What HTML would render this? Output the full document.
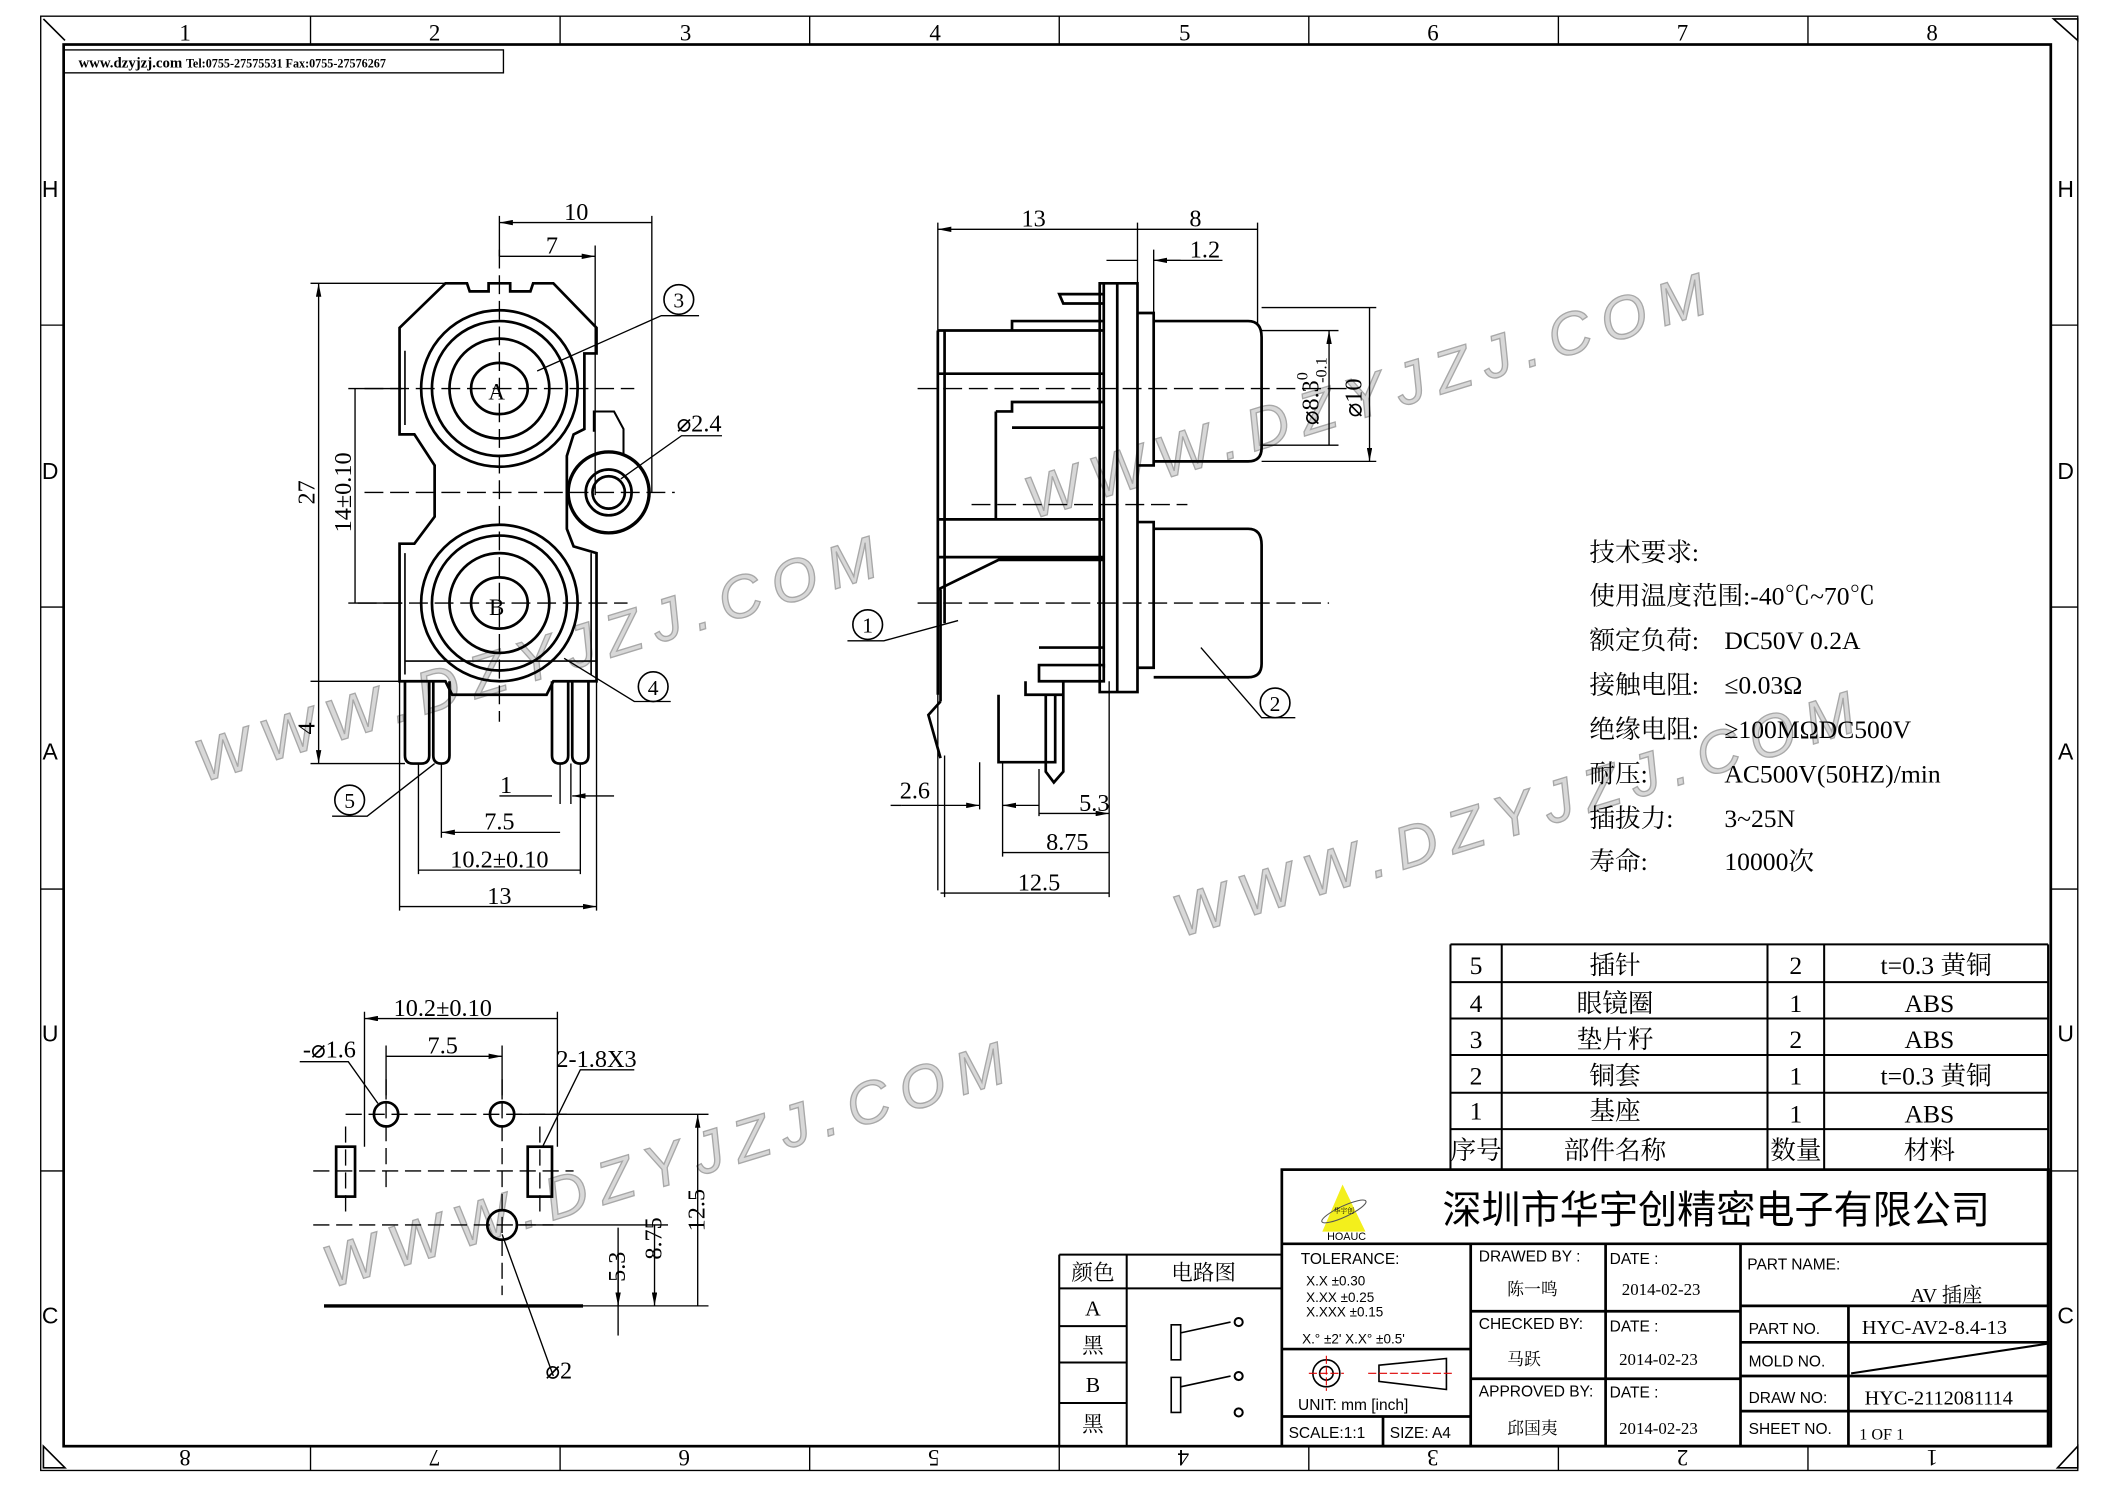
<!DOCTYPE html>
<html><head><meta charset="utf-8"><style>
html,body{margin:0;padding:0;background:#fff}
svg{display:block}
text{font-family:"Liberation Serif","Noto Serif CJK SC","Noto Sans CJK SC",serif;fill:#000}
text.s,.s text{font-family:"Liberation Sans","Noto Sans CJK SC",sans-serif}
.wm text{font-family:"Liberation Sans",sans-serif;fill:#d8d8d8;stroke:#a8a8a8;stroke-width:1}
</style></head><body>
<svg width="2105" height="1488" viewBox="0 0 1560 1103" xmlns="http://www.w3.org/2000/svg">
<defs>
<marker id="a" viewBox="0 0 10 4" refX="10" refY="2" markerWidth="10" markerHeight="4" orient="auto-start-reverse" markerUnits="userSpaceOnUse"><path d="M0,0 L10,2 L0,4z" fill="#000"/></marker>
</defs>
<rect width="1560" height="1103" fill="#fff"/>
<!-- watermarks -->
<g class="wm" font-size="44" font-style="italic" letter-spacing="9">
<text transform="translate(150,580) rotate(-17)">WWW.DZYJZJ.COM</text>
<text transform="translate(765,385) rotate(-17)">WWW.DZYJZJ.COM</text>
<text transform="translate(875,695) rotate(-17)">WWW.DZYJZJ.COM</text>
<text transform="translate(245,955) rotate(-17)">WWW.DZYJZJ.COM</text>
</g>
<!-- frames -->
<g fill="none" stroke="#000">
<rect x="30" y="12" width="1510" height="1078" stroke-width="1"/>
<rect x="47" y="33" width="1473" height="1039" stroke-width="2"/>
<path d="M230,12v21M415,12v21M600,12v21M785,12v21M970,12v21M1155,12v21M1340,12v21 M230,1072v18M415,1072v18M600,1072v18M785,1072v18M970,1072v18M1155,1072v18M1340,1072v18 M30,241h17M30,450h17M30,659h17M30,868h17 M1520,241h20M1520,450h20M1520,659h20M1520,868h20"/>
<path d="M1522,14 L1540,30 L1540,14z M32,1072 L48,1088 L32,1088z M1525,1088 L1540,1072 L1540,1088z M32,14 L48,30" stroke-width="1.2"/>
</g>
<g font-size="17" text-anchor="middle">
<text x="137" y="30">1</text><text x="322" y="30">2</text><text x="508" y="30">3</text><text x="693" y="30">4</text><text x="878" y="30">5</text><text x="1062" y="30">6</text><text x="1247" y="30">7</text><text x="1432" y="30">8</text>
<g transform="rotate(180 780 1081)"><text x="128" y="1087">1</text><text x="313" y="1087">2</text><text x="498" y="1087">3</text><text x="683" y="1087">4</text><text x="868" y="1087">5</text><text x="1053" y="1087">6</text><text x="1238" y="1087">7</text><text x="1423" y="1087">8</text></g>
<text class="s" x="37" y="146">H</text><text class="s" x="37" y="355">D</text><text class="s" x="37" y="563">A</text><text class="s" x="37" y="772">U</text><text class="s" x="37" y="981">C</text>
<text class="s" x="1531" y="146">H</text><text class="s" x="1531" y="355">D</text><text class="s" x="1531" y="563">A</text><text class="s" x="1531" y="772">U</text><text class="s" x="1531" y="981">C</text>
</g>
<rect x="47" y="37" width="326" height="17" fill="none" stroke="#000"/>
<text x="58" y="50" font-size="11" font-weight="bold">www.dzyjzj.com <tspan font-size="9">Tel:0755-27575531  Fax:0755-27576267</tspan></text>

<!-- FRONT VIEW -->
<g fill="none" stroke="#000" stroke-width="2">
<path d="M330,210 L346,210 L348,216 L362,216 L362,210 L378,210 L378,216 L393,216 L395,210 L410,210 L442,243 L442,262 L433,262 L433,318 L425,322 L420,338 L420,392 L425,405 L442,410 L442,505 L410,505 L405,515 L335,515 L330,505 L296,505 L296,403 L307,403 L322,383 L322,345 L307,322 L296,322 L296,243 Z"/>
<path d="M300,260v55M300,410v90M438,410v90M300,490h142" stroke-width="1.2"/>
<circle cx="370" cy="288" r="58"/><circle cx="370" cy="288" r="50"/><circle cx="370" cy="288" r="37"/><ellipse cx="370" cy="288" rx="21" ry="19"/>
<circle cx="370" cy="447" r="58"/><circle cx="370" cy="447" r="50"/><circle cx="370" cy="447" r="37"/><ellipse cx="370" cy="447" rx="21" ry="19"/>
<path d="M440,320 L440,305 L455,305 L462,318 L462,337" stroke-width="1.5"/>
<circle cx="451" cy="365" r="30" stroke-width="2.5"/><circle cx="451" cy="365" r="17"/><circle cx="451" cy="365" r="12"/>
<path d="M300,505v55q0,6 6,6h6q6,0 6,-6v-55 M321,505v55q0,6 6,6q6,0 6,-6v-55 M409,505v55q0,6 6,6q6,0 6,-6v-55 M424,505v55q0,6 6,6q6,0 6,-6v-55"/>
</g>
<g stroke="#000" stroke-width="1" fill="none">
<path d="M370,185v350M270,288h200M270,365h230M265,447h200" stroke-dasharray="14,5"/>
<path d="M370,160v30M483,160v205M441,182v185"/>
<path d="M370,165H483M370,190H441" marker-start="url(#a)" marker-end="url(#a)"/>
<path d="M230,210h100M230,505h66M230,566h70M258,288h40M258,447h40"/>
<path d="M236,210V505M263,288V447M236,505V566" marker-start="url(#a)" marker-end="url(#a)"/>
<path d="M296,505v170M442,505v170M310,566v82M430,566v82M327,566v55M415,566v30M423,566v30"/>
<path d="M370,590H409M455,590H424" marker-end="url(#a)"/>
<path d="M327,617H415M310,645H430M296,672H442" marker-start="url(#a)" marker-end="url(#a)"/>
<path d="M398,275L490,234H518M460,355L505,323H535M418,488L470,520H497M322,566L272,605H246"/>
</g>
<g font-size="18" text-anchor="middle">
<text x="427" y="163">10</text><text x="409" y="188">7</text>
<text transform="translate(233,365) rotate(-90)">27</text>
<text transform="translate(260,365) rotate(-90)">14±0.10</text>
<text transform="translate(233,540) rotate(-90)">4</text>
<text x="375" y="588">1</text><text x="370" y="615">7.5</text><text x="370" y="643">10.2±0.10</text><text x="370" y="670">13</text>
<text x="518" y="320">⌀2.4</text>
<text x="368" y="296" font-size="17">A</text><text x="368" y="456" font-size="17">B</text>
</g>
<g fill="none" stroke="#000" stroke-width="1.2"><circle cx="503" cy="222" r="11"/><circle cx="484" cy="509" r="11"/><circle cx="259" cy="593" r="11"/><circle cx="643" cy="463" r="11"/><circle cx="945" cy="521" r="11"/></g>
<g font-size="16" text-anchor="middle"><text x="503" y="228">3</text><text x="484" y="515">4</text><text x="259" y="599">5</text><text x="643" y="469">1</text><text x="945" y="527">2</text></g>

<!-- SIDE VIEW -->
<g fill="none" stroke="#000" stroke-width="2">
<path d="M695,245V515 M695,245H818 M695,277H818 M695,385H818 M695,413H818 M700,462V245 M750,245V238H818 M738,305H750V298H818 M738,305V385 M750,317H818"/>
<path d="M695,437L740,415H818"/>
<path d="M697,437V520 M697,520L688,530L697,562 M740,515V565H782V515 M815,210V513H843V210Z M828,210V513 M818,210V495 M785,218L788,225H818V218Z"/>
<path d="M843,232H855V345H843 M855,238H925Q935,238 935,250V332Q935,342 925,342H855 M843,387H855V495H843 M855,392H925Q935,392 935,404V492Q935,502 925,502H855"/>
<path d="M770,480H818M770,493H818V505H770Z M760,505V515H788V505 M775,515V572L781,580L788,572V515"/>
</g>
<g stroke="#000" stroke-width="1" fill="none">
<path d="M680,288H1000M680,447H985M720,374H880" stroke-dasharray="14,5"/>
<path d="M695,165V660M843,165V512M932,165V240M855,185V232M743,565V635M822,505V665M726,565V600M770,570V605M700,560V665"/>
<path d="M695,170H843M843,170H932M697,662H822M743,632H822M770,603H822" marker-start="url(#a)" marker-end="url(#a)"/>
<path d="M820,193H843M875,193H855" marker-end="url(#a)"/>
<path d="M906,193H855"/>
<path d="M668,597H726" marker-end="url(#a)"/><path d="M668,597H660"/>
<path d="M748,597H770"/><path d="M752,597H743" marker-end="url(#a)"/>
<path d="M935,228H1020M935,342H1020M935,245H992M935,330H992"/>
<path d="M985,245V330M1015,228V342" marker-start="url(#a)" marker-end="url(#a)"/>
<path d="M710,460L655,475H628M890,480L935,532H960"/>
</g>
<g font-size="18" text-anchor="middle">
<text x="766" y="168">13</text><text x="886" y="168">8</text><text x="893" y="191">1.2</text>
<text transform="translate(977,290) rotate(-90)">⌀8.3<tspan font-size="12" dy="-8">0</tspan><tspan font-size="12" dx="-8" dy="14">-0.1</tspan></text>
<text transform="translate(1009,295) rotate(-90)">⌀10</text>
<text x="678" y="592">2.6</text><text x="811" y="601">5.3</text><text x="791" y="630">8.75</text><text x="770" y="660">12.5</text>
</g>

<!-- tech requirements -->
<g font-size="19">
<text x="1178" y="416">技术要求:</text>
<text x="1178" y="448">使用温度范围:-40℃~70℃</text>
<text x="1178" y="481">额定负荷:</text><text x="1278" y="481">DC50V 0.2A</text>
<text x="1178" y="514">接触电阻:</text><text x="1278" y="514">≤0.03Ω</text>
<text x="1178" y="547">绝缘电阻:</text><text x="1278" y="547">≥100MΩDC500V</text>
<text x="1178" y="580">耐压:</text><text x="1278" y="580">AC500V(50HZ)/min</text>
<text x="1178" y="613">插拔力:</text><text x="1278" y="613">3~25N</text>
<text x="1178" y="645">寿命:</text><text x="1278" y="645">10000次</text>
</g>

<!-- parts table -->
<g fill="none" stroke="#000" stroke-width="1.5">
<path d="M1075,700H1518M1075,728H1518M1075,755H1518M1075,782H1518M1075,810H1518M1075,837H1518M1075,700V867M1113,700V867M1310,700V867M1352,700V867M1518,700V867"/>
</g>
<g font-size="19" text-anchor="middle">
<text x="1094" y="722">5</text><text x="1197" y="722">插针</text><text x="1331" y="722">2</text><text x="1435" y="722">t=0.3 黄铜</text>
<text x="1094" y="750">4</text><text x="1197" y="750">眼镜圈</text><text x="1331" y="750">1</text><text x="1430" y="750">ABS</text>
<text x="1094" y="777">3</text><text x="1197" y="777">垫片籽</text><text x="1331" y="777">2</text><text x="1430" y="777">ABS</text>
<text x="1094" y="804">2</text><text x="1197" y="804">铜套</text><text x="1331" y="804">1</text><text x="1435" y="804">t=0.3 黄铜</text>
<text x="1094" y="830">1</text><text x="1197" y="830">基座</text><text x="1331" y="832">1</text><text x="1430" y="832">ABS</text>
<text x="1094" y="859">序号</text><text x="1197" y="859">部件名称</text><text x="1331" y="859">数量</text><text x="1430" y="859">材料</text>
</g>

<!-- title block -->
<g fill="none" stroke="#000" stroke-width="2">
<rect x="950" y="867" width="568" height="205"/>
<path d="M950,922H1518M1090,922V1072M1190,922V1072M1290,922V1072M1090,972H1290M1090,1022H1290M1290,968H1518M1290,995H1518M1290,1020H1518M1290,1046H1518M1370,968V1072M950,1000H1090M950,1050H1090M1025,1050V1072"/>
<path d="M1372,1018L1518,996" stroke-width="1.5"/>
</g>
<path d="M995,878L980,913H1012Z" fill="#f3ef1c"/>
<ellipse cx="996" cy="898" rx="18" ry="4" transform="rotate(-25 996 898)" fill="none" stroke="#555" stroke-width="0.8"/>
<text x="996" y="899" font-size="5" text-anchor="middle">华宇创</text>
<text class="s" x="998" y="919" font-size="8" text-anchor="middle">HOAUC</text>
<text x="1272" y="907" font-size="29" text-anchor="middle" class="s">深圳市华宇创精密电子有限公司</text>
<g class="s" font-size="11.5">
<text x="964" y="937">TOLERANCE:</text>
<text x="968" y="953" font-size="10">X.X      ±0.30</text>
<text x="968" y="965" font-size="10">X.XX    ±0.25</text>
<text x="968" y="976" font-size="10">X.XXX  ±0.15</text>
<text x="965" y="996" font-size="10">X.° ±2'        X.X° ±0.5'</text>
<text x="962" y="1045">UNIT:  mm  [inch]</text>
<text x="955" y="1066">SCALE:1:1</text><text x="1030" y="1066">SIZE:  A4</text>
<text x="1096" y="935">DRAWED  BY  :</text><text x="1193" y="937">DATE  :</text>
<text x="1096" y="985">CHECKED  BY:</text><text x="1193" y="987">DATE  :</text>
<text x="1096" y="1035">APPROVED  BY:</text><text x="1193" y="1036">DATE  :</text>
<text x="1295" y="941">PART  NAME:</text>
<text x="1296" y="989">PART  NO.</text><text x="1296" y="1013">MOLD  NO.</text><text x="1296" y="1040">DRAW  NO:</text><text x="1296" y="1063">SHEET  NO.</text>
</g>
<g font-size="12.5">
<text x="1117" y="960">陈一鸣</text><text x="1202" y="960">2014-02-23</text>
<text x="1117" y="1012">马跃</text><text x="1200" y="1012">2014-02-23</text>
<text x="1117" y="1063">邱国夷</text><text x="1200" y="1063">2014-02-23</text>
<text x="1416" y="965" font-size="15">AV 插座</text>
<text x="1380" y="989" font-size="15">HYC-AV2-8.4-13</text>
<text x="1382" y="1041" font-size="15">HYC-2112081114</text>
<text x="1378" y="1067" font-size="12">1 OF 1</text>
</g>
<g fill="none" stroke="#000" stroke-width="1.2">
<circle cx="983" cy="1018" r="10"/><circle cx="983" cy="1018" r="5"/>
<path d="M1022,1012L1072,1007V1030L1022,1024Z"/>
</g>
<path d="M970,1018H996M983,1005V1031M1014,1018H1078" stroke="#d00" stroke-width="0.8" stroke-dasharray="6,2"/>

<!-- color table -->
<g fill="none" stroke="#000" stroke-width="1.5">
<path d="M785,930H950M785,955H950M785,983H835M785,1010H835M785,1040H835M785,930V1072H950M835,930V1072"/>
<path d="M868,982V1008H875V982ZM868,1021V1047H875V1021Z M875,988L912,980 M875,1028L912,1020" stroke-width="1.2"/>
<circle cx="918" cy="980" r="3"/><circle cx="918" cy="1020" r="3"/><circle cx="918" cy="1047" r="3"/>
</g>
<g font-size="16" text-anchor="middle">
<text x="810" y="949">颜色</text><text x="892" y="949">电路图</text>
<text x="810" y="975">A</text><text x="810" y="1003">黑</text><text x="810" y="1032">B</text><text x="810" y="1061">黑</text>
</g>

<!-- PCB VIEW -->
<g fill="none" stroke="#000" stroke-width="2">
<circle cx="286" cy="826" r="9"/><circle cx="372" cy="826" r="9"/><circle cx="372" cy="908" r="11"/>
<rect x="249" y="850" width="14" height="37"/><rect x="391" y="850" width="18" height="37"/>
<path d="M240,968H432" stroke-width="2.5"/>
</g>
<g stroke="#000" stroke-width="1" fill="none">
<path d="M256,826H420M232,868H425M232,908H410M286,800V880M372,800V960M256,835V900M400,835V900" stroke-dasharray="12,5"/>
<path d="M270,750V850M413,750V850M286,775V815M372,775V815"/>
<path d="M270,755H413M286,783H372" marker-start="url(#a)" marker-end="url(#a)"/>
<path d="M381,826H525M383,908H495M432,968H525"/>
<path d="M517,826V968M485,908V968" marker-start="url(#a)" marker-end="url(#a)"/>
<path d="M458,930V968" marker-end="url(#a)"/><path d="M458,968V990"/>
<path d="M458,910V968"/>
<path d="M222,787H258L280,818M470,793H430L402,850M372,915L410,1020"/>
</g>
<g font-size="18" text-anchor="middle">
<text x="328" y="753">10.2±0.10</text><text x="328" y="781">7.5</text>
<text x="244" y="784">-⌀1.6</text><text x="442" y="791">2-1.8X3</text>
<text transform="translate(522,897) rotate(-90)">12.5</text>
<text transform="translate(490,918) rotate(-90)">8.75</text>
<text transform="translate(463,939) rotate(-90)">5.3</text>
<text x="414" y="1022">⌀2</text>
</g>
</svg>
</body></html>
